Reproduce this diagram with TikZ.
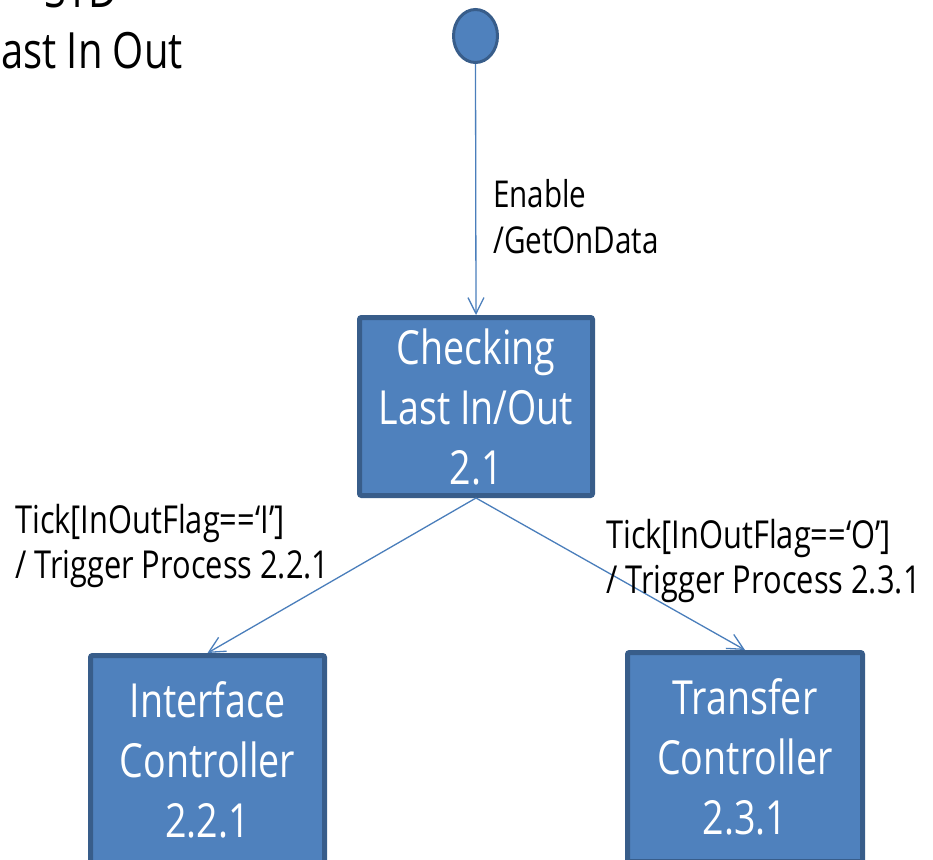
\documentclass[tikz,border=0pt]{standalone}
\usepackage{fontspec}
\setmainfont{Open Sans}[FakeStretch=0.8]
\usetikzlibrary{arrows.meta,shapes.geometric}
\definecolor{boxfill}{HTML}{4F81BD}
\definecolor{boxedge}{HTML}{385D8A}
\definecolor{linkcol}{HTML}{4A7EBB}
\begin{document}
\begin{tikzpicture}[x=1pt,y=-1pt,
  state/.style={draw=boxedge, fill=boxfill, line width=5pt, rounded corners=2pt, text=white, align=center, font=\fontsize{47}{60}\selectfont, inner sep=0pt},
  initial/.style={ellipse, draw=boxedge, fill=boxfill, line width=3pt, minimum width=44pt, minimum height=53pt, inner sep=0pt},
  link/.style={draw=linkcol, line width=1.3pt, -{Straight Barb[length=16pt,width=16pt,line width=1.3pt]}},
  lbl/.style={align=left, inner sep=0pt, anchor=base west},
]
\useasboundingbox (0,0) rectangle (933,859);
\clip (0,0) rectangle (933,859);
\node[initial] (start) at (475.5,36) {};
\node[state, minimum width=233pt, minimum height=178pt] (check) at (476,406.5) {Checking\\Last In/Out\\2.1};
\node[state, minimum width=234pt, minimum height=209pt] (iface) at (207.5,760) {Interface\\Controller\\2.2.1};
\node[state, minimum width=235pt, minimum height=209pt] (xfer) at (745,757) {Transfer\\Controller\\2.3.1};
\draw[link] (start.south) -- (check.north);
\draw[link] (check.south) -- (iface.north);
\draw[link] (check.south) -- (xfer.north);
\node[lbl, font=\fontsize{37}{46}\selectfont] (enable) at (493,253) {Enable\\/GetOnData};
\node[lbl, font=\fontsize{38.5}{45}\selectfont] (guardI) at (15,578) {Tick[InOutFlag==‘I’]\\/ Trigger Process 2.2.1};
\node[lbl, font=\fontsize{38.5}{45}\selectfont] (guardO) at (606,593) {Tick[InOutFlag==‘O’]\\/ Trigger Process 2.3.1};
\node[anchor=base east, inner sep=0pt, font=\fontsize{50}{60}\selectfont] (title2) at (183,68) {Last In Out};
\node[anchor=base east, inner sep=0pt, font=\fontsize{50}{60}\selectfont] (title1) at (118,8) {STD};
\end{tikzpicture}
\end{document}
